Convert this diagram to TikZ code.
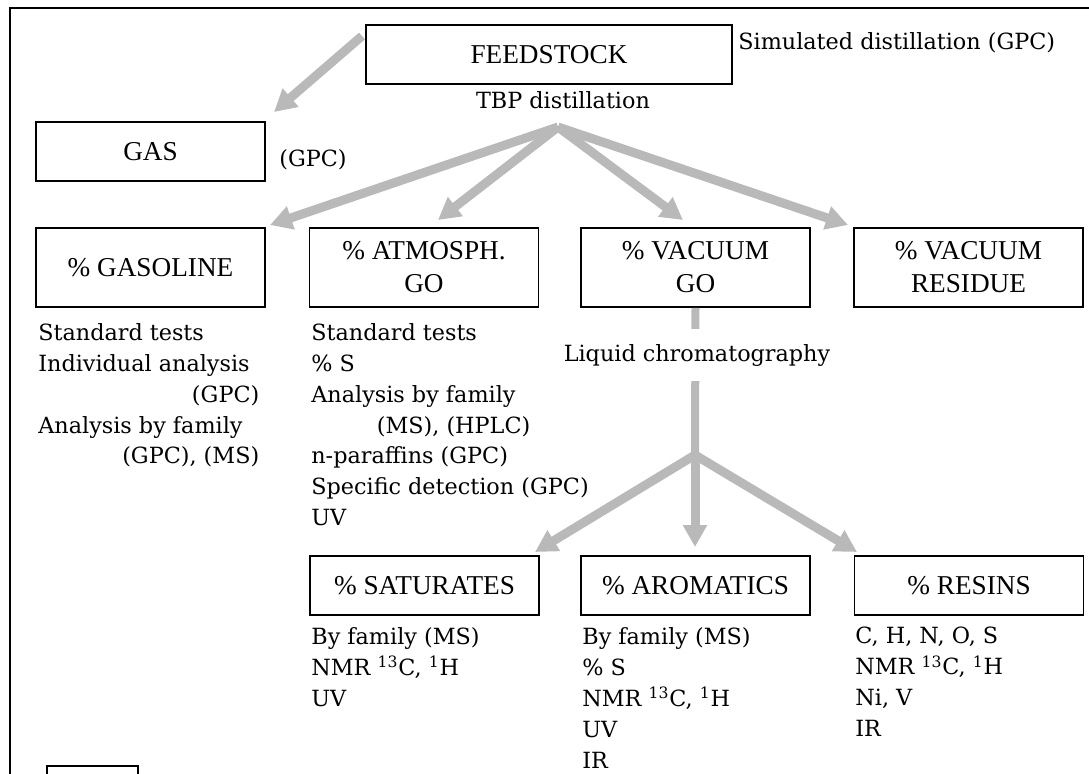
\documentclass[tikz,border=0pt]{standalone}
\usepackage{fontspec}
\setmainfont{DejaVu Serif}
\newfontfamily\labelfont{Liberation Serif}
\usepackage{tikz}
\usetikzlibrary{arrows.meta}
\tikzset{
	fraction/.style={draw, line width=0.9pt, inner sep=0pt, align=center,
		font=\labelfont\fontsize{15.5}{18.8}\selectfont,
		minimum width=4.58cm, minimum height=1.18cm},
	twoline/.style={minimum height=1.58cm},
	tests/.style={anchor=north west, inner sep=0pt, align=left,
		font=\fontsize{12.7}{17.6}\selectfont},
	remark/.style={inner sep=0pt, font=\fontsize{12.7}{17.6}\selectfont},
	flow/.style={draw=gray!55, line width=0.18cm,
		-{Triangle[width=0.46cm,length=0.44cm]}},
}

\begin{document}
\begin{tikzpicture}[x=0.02cm,y=-0.02cm]
	\useasboundingbox (0,0) rectangle (1089,774);
	% frame
	\draw[line width=0.8pt] (10,774)--(10,8)--(1089,8);
	\draw[line width=0.8pt] (47,774)--(47,766)--(138,766)--(138,774);
	% fractions
	\node[fraction,minimum width=7.32cm] (feed) at (549,54.5) {FEEDSTOCK};
	\node[fraction] (gas) at (150.5,151.5) {GAS};
	\node[fraction,twoline] (gasoline) at (150.5,267.5) {\% GASOLINE};
	\node[fraction,twoline] (atmgo) at (424,267.5) {\% ATMOSPH.\\GO};
	\node[fraction,twoline] (vacgo) at (695.5,267.5) {\% VACUUM\\GO};
	\node[fraction,twoline] (vacres) at (968.5,267.5) {\% VACUUM\\RESIDUE};
	\node[fraction] (sat) at (424.5,585.5) {\% SATURATES};
	\node[fraction] (arom) at (695.5,585.5) {\% AROMATICS};
	\node[fraction] (res) at (969,585.5) {\% RESINS};
	% remarks
	\node[remark,anchor=west] (simdist) at (738,43) {Simulated distillation (GPC)};
	\node[remark] (tbp) at (563,100) {TBP distillation};
	\node[remark,anchor=west] (gasgpc) at (279,160) {(GPC)};
	% analyses
	\node[tests] (gasolinetests) at (38,323) {Standard tests\\Individual analysis\\
		\makebox[4.42cm][r]{(GPC)}\\Analysis by family\\\makebox[4.42cm][r]{(GPC), (MS)}};
	\node[tests] (atmgotests) at (311,323) {Standard tests\\\% S\\Analysis by family\\
		\makebox[4.38cm][r]{(MS), (HPLC)}\\n-paraffins (GPC)\\Specific detection (GPC)\\UV};
	\node[tests] (sattests) at (311,627) {By family (MS)\\
		NMR \textsuperscript{13}C, \textsuperscript{1}H\\UV};
	\node[tests] (aromtests) at (582,627) {By family (MS)\\\% S\\
		NMR \textsuperscript{13}C, \textsuperscript{1}H\\UV\\IR};
	\node[tests] (restests) at (855,627) {C, H, N, O, S\\
		NMR \textsuperscript{13}C, \textsuperscript{1}H\\Ni, V\\IR};
	% arrows
	\coordinate (feedout) at (362,36);
	\coordinate (gasin) at (274,112);
	\coordinate (tbpfork) at (558,127);
	\coordinate (gasolinein) at (270,225);
	\coordinate (atmgoin) at (438,220);
	\coordinate (vacgoin) at (683,220);
	\coordinate (vacresin) at (848,225);
	\coordinate (lcfork) at (695,455);
	\coordinate (satin) at (535,552);
	\coordinate (aromin) at (695,547);
	\coordinate (resin) at (857,552);
	\draw[flow] (feedout)--(gasin);
	\draw[flow] (tbpfork)--(gasolinein);
	\draw[flow] (tbpfork)--(atmgoin);
	\draw[flow] (tbpfork)--(vacgoin);
	\draw[flow] (tbpfork)--(vacresin);
	\draw[draw=gray!55,line width=0.16cm] (vacgo.south)--(lcfork);
	\draw[flow] (lcfork)--(satin);
	\draw[flow] (lcfork)--(aromin);
	\draw[flow] (lcfork)--(resin);
	\node[remark,fill=white,inner ysep=0.3cm] (lc) at (697,355) {Liquid chromatography};
\end{tikzpicture}
\end{document}
